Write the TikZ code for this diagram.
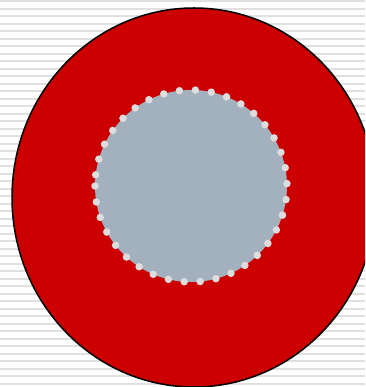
\documentclass[tikz,border=0pt]{standalone}
\definecolor{discred}{HTML}{CC0000}
\definecolor{coregray}{HTML}{A3B1BF}
\definecolor{dotgray}{HTML}{DDDDDD}
\definecolor{stripegray}{HTML}{E0E0E0}
\tikzset{
  stripeline/.style={stripegray, line width=2pt},
  outerdisc/.style={fill=discred, draw=black, line width=1.5pt},
  innercore/.style={fill=coregray},
  dotring/.style={dotgray, line width=7.5pt, line cap=round, dash pattern=on 0pt off 16pt}
}
\begin{document}
\begin{tikzpicture}[x=1pt,y=1pt]
\useasboundingbox (0,0) rectangle (365,387);
\clip (0,0) rectangle (365,387);
\fill[white] (0,0) rectangle (365,387);
\foreach \k in {0,...,51} \draw[stripeline] (0,{385.5-7.5*\k}) -- (365,{385.5-7.5*\k});
\draw[outerdisc] (194,189.5) ellipse [x radius=182, y radius=189.5];
\fill[innercore] (191,201) circle[radius=96];
\draw[dotring] (95,201) arc[start angle=180, end angle=540, radius=96];
\end{tikzpicture}
\end{document}
